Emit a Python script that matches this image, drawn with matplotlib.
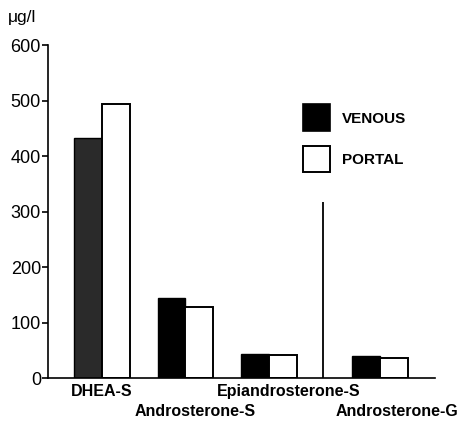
import matplotlib.pyplot as plt
from matplotlib.patches import Patch

plt.rcParams['font.family'] = ['Liberation Sans', 'DejaVu Sans']

steroids = ["DHEA-S", "Androsterone-S", "Epiandrosterone-S", "Androsterone-G"]
venous = [432, 144, 43, 40]
portal = [495, 128, 41, 36]
yticks = [0, 100, 200, 300, 400, 500, 600]

# group centres; the glucuronide is set apart past the divider
centres = [0, 1, 2, 3.33]
label_x = [0, 1.11, 2.24, 3.53]
label_row = [0, 1, 0, 1]
width = 0.335

fig = plt.figure(figsize=(4.61, 4.23), dpi=100)
ax = fig.add_axes([0.104, 0.106, 0.840, 0.787])

venous_colors = ["#2a2a2a", "black", "black", "black"]
for i, c in enumerate(centres):
    ax.bar(c - width / 2, venous[i], width=width, color=venous_colors[i],
           edgecolor="black", linewidth=1.0)
    ax.bar(c + width / 2, portal[i], width=width, color="white",
           edgecolor="black", linewidth=1.4)

# divider between sulphates and glucuronide
ax.vlines(2.65, 0, 318, color="black", linewidth=1.3)

ax.set_xlim(-0.647, 3.99)
ax.set_ylim(0, 600)
ax.set_yticks(yticks)
ax.set_xticks([])
ax.spines["top"].set_visible(False)
ax.spines["right"].set_visible(False)
ax.spines["left"].set_linewidth(1.2)
ax.spines["bottom"].set_linewidth(1.2)
ax.tick_params(axis="y", direction="out", length=4, width=1.2, labelsize=13, pad=1)

for x, row, name in zip(label_x, label_row, steroids):
    ax.text(x, -24 - row * 36, name, ha="center", va="center",
            fontsize=11.5, fontweight="bold")

fig.text(0.017, 0.958, "μg/l", fontsize=12.5, ha="left", va="center")

handles = [Patch(facecolor="black", edgecolor="black", linewidth=1.2, label="VENOUS"),
           Patch(facecolor="white", edgecolor="black", linewidth=1.4, label="PORTAL")]
leg = ax.legend(handles=handles, loc="upper left", bbox_to_anchor=(0.64, 0.845),
                frameon=False, borderpad=0, handlelength=1.75, handleheight=2.3,
                labelspacing=0.95, handletextpad=0.8, prop={"size": 11, "weight": "bold"})

fig.savefig("out.png", dpi=100)
